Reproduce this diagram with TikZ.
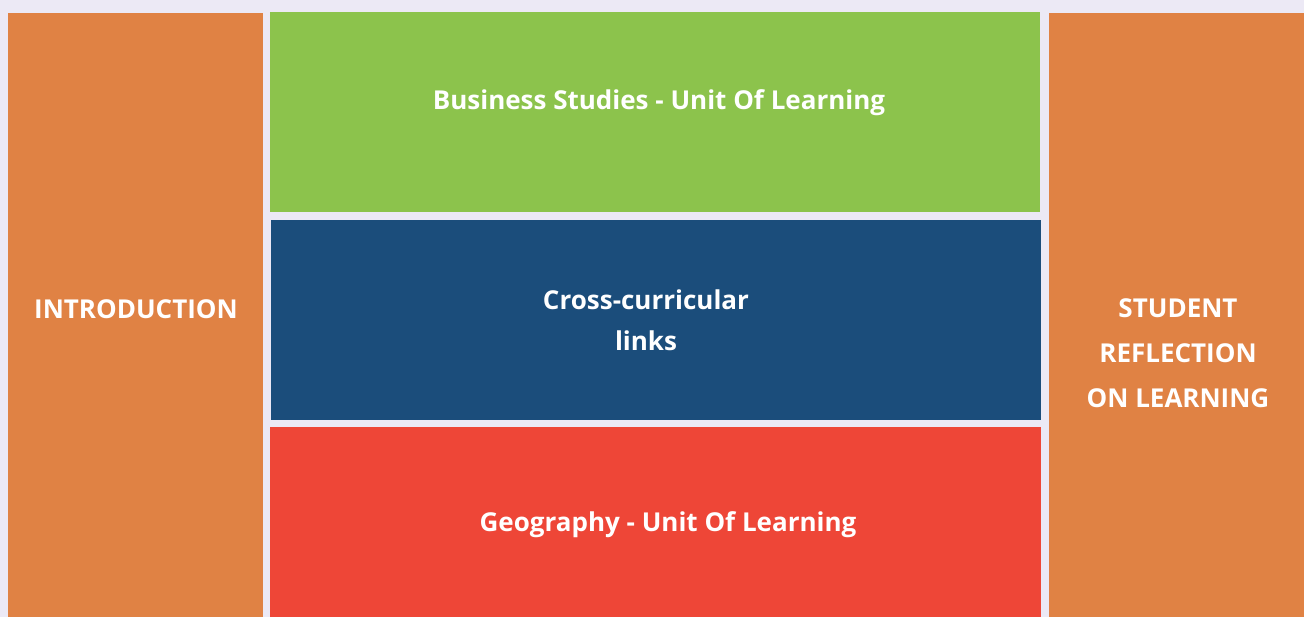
\documentclass[tikz,border=0pt]{standalone}
\usepackage{fontspec}
\setmainfont{Open Sans}
\definecolor{bgpanel}{HTML}{ECE9F5}
\definecolor{unitorange}{HTML}{E08244}
\definecolor{unitgreen}{HTML}{8CC34C}
\definecolor{unitblue}{HTML}{1B4D7B}
\definecolor{unitred}{HTML}{EE4637}

\begin{document}
\begin{tikzpicture}[x=1pt,y=-1pt,
    block/.style={inner sep=0pt,outer sep=0pt,anchor=north west},
    caption/.style={text=white,font=\fontsize{26}{41}\selectfont\bfseries,align=center}]
      \fill[bgpanel] (0,0) rectangle (1304,617);
      \useasboundingbox (0,0) rectangle (1304,617);

      \node[block,fill=unitorange,minimum width=255pt,minimum height=604pt] (intro) at (8,13) {};
      \node[block,fill=unitgreen,minimum width=770pt,minimum height=200pt] (business) at (270,12) {};
      \node[block,fill=unitblue,minimum width=770pt,minimum height=200pt] (links) at (271,220) {};
      \node[block,fill=unitred,minimum width=771pt,minimum height=190pt] (geography) at (270,427) {};
      \node[block,fill=unitorange,minimum width=255pt,minimum height=604pt] (reflection) at (1049,13) {};

      \node[caption] (introtext) at (136,309) {INTRODUCTION};
      \node[caption] (businesstext) at (659,103) {Business Studies - Unit Of Learning};
      \node[caption] (linkstext) at (646,320) {Cross-curricular\\links};
      \node[caption] (geographytext) at (668,525) {Geography - Unit Of Learning};
      \node[caption,font=\fontsize{26}{45}\selectfont\bfseries] (reflectiontext) at (1178,353) {STUDENT\\REFLECTION\\ON LEARNING};
\end{tikzpicture}
\end{document}
